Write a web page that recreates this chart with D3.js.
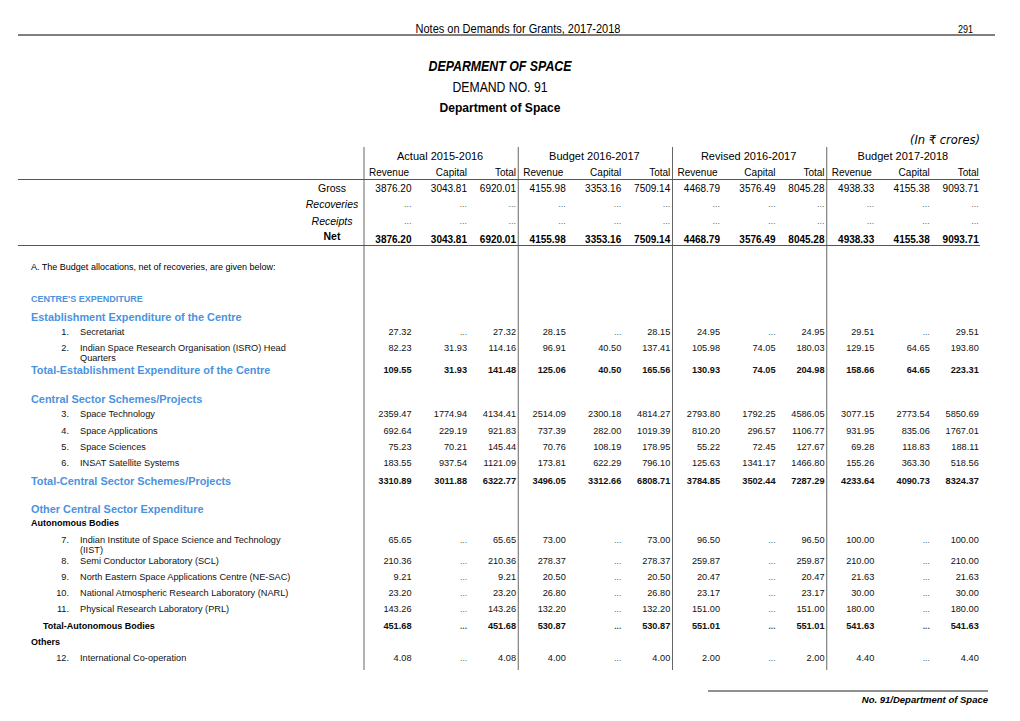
<!DOCTYPE html>
<html>
<head>
<meta charset="utf-8">
<script src="https://cdn.jsdelivr.net/npm/d3@7"></script>
<style>
  html, body { margin: 0; padding: 0; background: #fff; }
  svg { display: block; font-family: "Liberation Sans", Arial, sans-serif; }
</style>
</head>
<body>
<svg id="chart" width="1020" height="721"></svg>
<script>
// ---------------- DATA ----------------
const pageTitle = "Notes on Demands for Grants, 2017-2018";
const pageNumber = "291";
const titleLines = ["DEPARMENT OF SPACE", "DEMAND NO. 91", "Department of Space"];
const unitNote = "(In \u20B9 crores)";
const groups = ["Actual 2015-2016", "Budget 2016-2017", "Revised 2016-2017", "Budget 2017-2018"];
const subHeads = ["Revenue", "Capital", "Total"];
const summaryLabels = ["Gross", "Recoveries", "Receipts", "Net"];

const grossValues      = [3876.20, 3043.81, 6920.01, 4155.98, 3353.16, 7509.14, 4468.79, 3576.49, 8045.28, 4938.33, 4155.38, 9093.71];
const recoveriesValues = [null, null, null, null, null, null, null, null, null, null, null, null];
const receiptsValues   = [null, null, null, null, null, null, null, null, null, null, null, null];
const netValues        = [3876.20, 3043.81, 6920.01, 4155.98, 3353.16, 7509.14, 4468.79, 3576.49, 8045.28, 4938.33, 4155.38, 9093.71];

const noteText = "A. The Budget allocations, net of recoveries, are given below:";
const footerText = "No. 91/Department of Space";

const secretariat   = [27.32, null, 27.32, 28.15, null, 28.15, 24.95, null, 24.95, 29.51, null, 29.51];
const isroHQ        = [82.23, 31.93, 114.16, 96.91, 40.50, 137.41, 105.98, 74.05, 180.03, 129.15, 64.65, 193.80];
const totalEstab    = [109.55, 31.93, 141.48, 125.06, 40.50, 165.56, 130.93, 74.05, 204.98, 158.66, 64.65, 223.31];
const spaceTech     = [2359.47, 1774.94, 4134.41, 2514.09, 2300.18, 4814.27, 2793.80, 1792.25, 4586.05, 3077.15, 2773.54, 5850.69];
const spaceApps     = [692.64, 229.19, 921.83, 737.39, 282.00, 1019.39, 810.20, 296.57, 1106.77, 931.95, 835.06, 1767.01];
const spaceSciences = [75.23, 70.21, 145.44, 70.76, 108.19, 178.95, 55.22, 72.45, 127.67, 69.28, 118.83, 188.11];
const insat         = [183.55, 937.54, 1121.09, 173.81, 622.29, 796.10, 125.63, 1341.17, 1466.80, 155.26, 363.30, 518.56];
const totalCentral  = [3310.89, 3011.88, 6322.77, 3496.05, 3312.66, 6808.71, 3784.85, 3502.44, 7287.29, 4233.64, 4090.73, 8324.37];
const iist          = [65.65, null, 65.65, 73.00, null, 73.00, 96.50, null, 96.50, 100.00, null, 100.00];
const scl           = [210.36, null, 210.36, 278.37, null, 278.37, 259.87, null, 259.87, 210.00, null, 210.00];
const nesac         = [9.21, null, 9.21, 20.50, null, 20.50, 20.47, null, 20.47, 21.63, null, 21.63];
const narl          = [23.20, null, 23.20, 26.80, null, 26.80, 23.17, null, 23.17, 30.00, null, 30.00];
const prl           = [143.26, null, 143.26, 132.20, null, 132.20, 151.00, null, 151.00, 180.00, null, 180.00];
const totalAuto     = [451.68, null, 451.68, 530.87, null, 530.87, 551.01, null, 551.01, 541.63, null, 541.63];
const intlCoop      = [4.08, null, 4.08, 4.00, null, 4.00, 2.00, null, 2.00, 4.40, null, 4.40];

// table body rows: kind, item number, label lines, values
const bodyRows = [
  { kind: "section",   label: ["CENTRE'S EXPENDITURE"] },
  { kind: "head",      label: ["Establishment Expenditure of the Centre"] },
  { kind: "item", no: "1.",  label: ["Secretariat"], values: secretariat },
  { kind: "item", no: "2.",  label: ["Indian Space Research Organisation (ISRO) Head", "Quarters"], values: isroHQ },
  { kind: "blueTotal", label: ["Total-Establishment Expenditure of the Centre"], values: totalEstab },
  { kind: "head",      label: ["Central Sector Schemes/Projects"] },
  { kind: "item", no: "3.",  label: ["Space Technology"], values: spaceTech },
  { kind: "item", no: "4.",  label: ["Space Applications"], values: spaceApps },
  { kind: "item", no: "5.",  label: ["Space Sciences"], values: spaceSciences },
  { kind: "item", no: "6.",  label: ["INSAT Satellite Systems"], values: insat },
  { kind: "blueTotal", label: ["Total-Central Sector Schemes/Projects"], values: totalCentral },
  { kind: "head",      label: ["Other Central Sector Expenditure"] },
  { kind: "subhead",   label: ["Autonomous Bodies"] },
  { kind: "item", no: "7.",  label: ["Indian Institute of Space Science and Technology", "(IIST)"], values: iist },
  { kind: "item", no: "8.",  label: ["Semi Conductor Laboratory (SCL)"], values: scl },
  { kind: "item", no: "9.",  label: ["North Eastern Space Applications Centre (NE-SAC)"], values: nesac },
  { kind: "item", no: "10.", label: ["National Atmospheric Research Laboratory (NARL)"], values: narl },
  { kind: "item", no: "11.", label: ["Physical Research Laboratory (PRL)"], values: prl },
  { kind: "blackTotal", label: ["Total-Autonomous Bodies"], values: totalAuto },
  { kind: "subhead",   label: ["Others"] },
  { kind: "item", no: "12.", label: ["International Co-operation"], values: intlCoop }
];

// ---------------- LAYOUT ----------------
// vertical slot of each body row (in row units)
const bodySlots = [-2.02, -0.94, 0, 0.98, 2.34, 4.12, 5.03, 6.04, 7.04, 8.04, 9.09, 10.83, 11.7, 12.72, 13.99, 14.97, 15.96, 16.96, 17.98, 18.98, 19.96];

const svg = d3.select("#chart");
const BLUE = "#4a93e0";
const fmt = d3.format(".2f");

const yBody = d3.scaleLinear().domain([0, 1]).range([332, 348.35]);
const ySummary = d3.scaleLinear().domain([0, 1]).range([188, 204.3]);

const xGroup = d3.scaleBand().domain(groups).range([364, 981]).paddingInner(0).paddingOuter(0);
const subOffset = d3.scaleOrdinal().domain(subHeads).range([47.5, 103, 152]);
const colX = i => xGroup(groups[Math.floor(i / 3)]) + subOffset(subHeads[i % 3]);

// ---------------- PAGE HEADER ----------------
svg.append("text").attr("x", 518).attr("y", 28).attr("text-anchor", "middle")
  .attr("dominant-baseline", "central").attr("font-size", 13)
  .attr("textLength", 205).attr("lengthAdjust", "spacingAndGlyphs").text(pageTitle);
svg.append("text").attr("x", 973).attr("y", 29).attr("text-anchor", "end")
  .attr("dominant-baseline", "central").attr("font-size", 11)
  .attr("textLength", 15).attr("lengthAdjust", "spacingAndGlyphs").text(pageNumber);
svg.append("line").attr("x1", 18).attr("x2", 995).attr("y1", 35).attr("y2", 35)
  .attr("stroke", "#555").attr("stroke-width", 1.6);

const titleStyles = [
  { y: 66, size: 14, weight: "bold", style: "italic", len: 143 },
  { y: 87, size: 14, weight: "normal", style: "normal", len: 95 },
  { y: 107, size: 13.5, weight: "bold", style: "normal", len: 121 }
];
titleLines.forEach((t, i) => {
  const s = titleStyles[i];
  svg.append("text").attr("x", 500).attr("y", s.y).attr("text-anchor", "middle")
    .attr("dominant-baseline", "central").attr("font-size", s.size)
    .attr("font-weight", s.weight).attr("font-style", s.style)
    .attr("textLength", s.len).attr("lengthAdjust", "spacingAndGlyphs").text(t);
});

svg.append("text").attr("x", 980).attr("y", 140).attr("text-anchor", "end")
  .attr("dominant-baseline", "central").attr("font-size", 12)
  .attr("font-family", "'DejaVu Sans', sans-serif").attr("font-style", "italic")
  .attr("textLength", 70).attr("lengthAdjust", "spacingAndGlyphs").text(unitNote);

// ---------------- TABLE HEADER ----------------
svg.selectAll("text.group").data(groups).join("text").attr("class", "group")
  .attr("x", d => xGroup(d) + xGroup.bandwidth() / 2 - 1)
  .attr("y", 156).attr("text-anchor", "middle").attr("dominant-baseline", "central")
  .attr("font-size", 11).text(d => d);

groups.forEach(g => {
  subHeads.forEach((s, k) => {
    svg.append("text")
      .attr("x", k === 0 ? xGroup(g) + 5 : xGroup(g) + subOffset(s))
      .attr("y", 172).attr("text-anchor", k === 0 ? "start" : "end")
      .attr("dominant-baseline", "central").attr("font-size", 10).text(s);
  });
});

// vertical rules
svg.selectAll("line.vrule").data(groups).join("line").attr("class", "vrule")
  .attr("x1", d => xGroup(d)).attr("x2", d => xGroup(d))
  .attr("y1", 147).attr("y2", 670).attr("stroke", "#666").attr("stroke-width", 1);

// horizontal rules
[179.5, 245.5].forEach(y => {
  svg.append("line").attr("x1", 18).attr("x2", 980).attr("y1", y).attr("y2", y)
    .attr("stroke", "#555").attr("stroke-width", 1);
});

// ---------------- SUMMARY ROWS ----------------
const summaryValues = [grossValues, recoveriesValues, receiptsValues, netValues];
summaryLabels.forEach((lab, i) => {
  const y = ySummary(i) + (i === 3 ? 0.8 : 0);
  const bold = i === 3;
  svg.append("text").attr("x", 332).attr("y", y - (i === 3 ? 2 : 0)).attr("text-anchor", "middle")
    .attr("dominant-baseline", "central").attr("font-size", 10.5)
    .attr("font-weight", bold ? "bold" : "normal")
    .attr("font-style", (i === 1 || i === 2) ? "italic" : "normal").text(lab);
  summaryValues[i].forEach((v, c) => {
    svg.append("text").attr("x", colX(c)).attr("y", y + (bold ? 2 : 0)).attr("text-anchor", "end")
      .attr("dominant-baseline", "central")
      .attr("font-size", v == null ? 9 : 10)
      .attr("font-weight", bold ? "bold" : "normal")
      .attr("fill", v == null ? "#666" : "#000")
      .text(v == null ? "..." : fmt(v));
  });
});

svg.append("text").attr("x", 31).attr("y", 267).attr("dominant-baseline", "central")
  .attr("font-size", 9).text(noteText);

// ---------------- BODY ROWS ----------------
bodyRows.forEach((r, i) => {
  const y = yBody(bodySlots[i]);
  let x = 80, size = 9.2, weight = "normal", fill = "#111";
  if (r.kind === "section") { x = 31; size = 9; weight = "bold"; fill = BLUE; }
  if (r.kind === "head" || r.kind === "blueTotal") { x = 31; size = 10.9; weight = "bold"; fill = BLUE; }
  if (r.kind === "subhead") { x = 31; size = 9; weight = "bold"; fill = "#000"; }
  if (r.kind === "blackTotal") { x = 43; size = 9; weight = "bold"; fill = "#000"; }

  if (r.no) {
    svg.append("text").attr("x", 69).attr("y", y).attr("text-anchor", "end")
      .attr("dominant-baseline", "central").attr("font-size", 9.2).attr("fill", "#111").text(r.no);
  }
  r.label.forEach((line, j) => {
    svg.append("text").attr("x", x).attr("y", y + j * 10)
      .attr("dominant-baseline", "central").attr("font-size", size)
      .attr("font-weight", weight).attr("fill", fill).text(line);
  });
  if (r.values) {
    const bold = r.kind !== "item";
    r.values.forEach((v, c) => {
      svg.append("text").attr("x", colX(c)).attr("y", y).attr("text-anchor", "end")
        .attr("dominant-baseline", "central")
        .attr("font-size", v == null ? 8.5 : 9.2)
        .attr("font-weight", bold ? "bold" : "normal")
        .attr("fill", v == null ? "#555" : "#111")
        .text(v == null ? "..." : fmt(v));
    });
  }
});

// ---------------- FOOTER ----------------
svg.append("line").attr("x1", 708).attr("x2", 988).attr("y1", 691).attr("y2", 691)
  .attr("stroke", "#222").attr("stroke-width", 1.2);
svg.append("text").attr("x", 988).attr("y", 699).attr("text-anchor", "end")
  .attr("dominant-baseline", "central").attr("font-size", 9.5)
  .attr("font-weight", "bold").attr("font-style", "italic").text(footerText);
</script>
</body>
</html>
